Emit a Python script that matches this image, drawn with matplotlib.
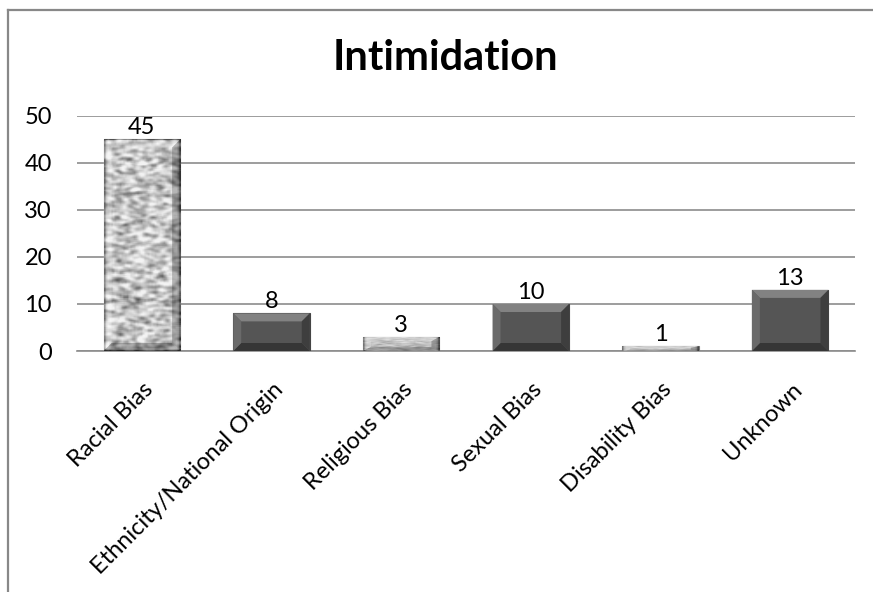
import numpy as np
import matplotlib.pyplot as plt
from matplotlib.patches import Polygon
from matplotlib.lines import Line2D
from matplotlib.transforms import ScaledTranslation

categories = ["Racial Bias", "Ethnicity/National Origin", "Religious Bias",
              "Sexual Bias", "Disability Bias", "Unknown"]
counts = [45, 8, 3, 10, 1, 13]
bar_styles = ["granite", "dark", "granite", "dark", "granite", "dark"]
yticks = [0, 10, 20, 30, 40, 50]
title = "Intimidation"

plt.rcParams['font.family'] = ['Lato', 'DejaVu Sans']

W, H = 873, 592
fig = plt.figure(figsize=(W / 100, H / 100), dpi=100)
ax = fig.add_axes([77 / W, 1 - 351 / H, (855 - 77) / W, (351 - 116) / H])


def granite_texture(seed, rows=220, cols=44):
    rng = np.random.default_rng(seed)
    n = rng.random((rows, cols))
    k = np.ones(3) / 3
    for _ in range(2):
        n = np.apply_along_axis(lambda r: np.convolve(r, k, mode='same'), 1, n)
        n = np.apply_along_axis(lambda c: np.convolve(c, k, mode='same'), 0, n)
    n = (n - n.min()) / (n.max() - n.min())
    return 0.2 + 0.75 * np.clip((n - 0.2) / 0.6, 0, 1) ** 0.7


def bevel(ax, x0, y0, w, h, colors, alpha=1.0):
    # pixel-size bevel converted to data units
    dx = min(8 / 130, w * 0.3)
    dy = min(8 / 4.7, h * 0.3)
    x1, y1 = x0 + w, y0 + h
    top = [(x0, y1), (x1, y1), (x1 - dx, y1 - dy), (x0 + dx, y1 - dy)]
    bottom = [(x0, y0), (x1, y0), (x1 - dx, y0 + dy), (x0 + dx, y0 + dy)]
    left = [(x0, y0), (x0, y1), (x0 + dx, y1 - dy), (x0 + dx, y0 + dy)]
    right = [(x1, y0), (x1, y1), (x1 - dx, y1 - dy), (x1 - dx, y0 + dy)]
    for pts, c in zip([top, bottom, left, right], colors):
        ax.add_patch(Polygon(pts, closed=True, facecolor=c, edgecolor='none',
                             alpha=alpha, zorder=4))


x = np.arange(len(categories))
bars = ax.bar(x, counts, width=0.59, color='#555555', edgecolor='#444444',
              linewidth=0.8, zorder=3)

for i, (bar, style) in enumerate(zip(bars, bar_styles)):
    x0, y0 = bar.get_x(), bar.get_y()
    w, h = bar.get_width(), bar.get_height()
    if style == 'granite':
        bar.set_facecolor('#aaaaaa')
        bar.set_edgecolor('#777777')
        tex = granite_texture(10 + i)
        im = ax.imshow(tex, extent=(x0, x0 + w, y0, y0 + h), aspect='auto',
                       cmap='gray', vmin=0, vmax=1, interpolation='bilinear',
                       zorder=3.5)
        im.set_clip_path(bar)
        bevel(ax, x0, y0, w, h, ['white', 'black', 'white', 'black'], alpha=0.25)
    else:
        bevel(ax, x0, y0, w, h, ['#828282', '#363636', '#6a6a6a', '#3e3e3e'])
    ax.annotate(f"{counts[i]}", (bar.get_x() + w / 2, h), xytext=(0, 1),
                textcoords='offset points', ha='center', va='bottom',
                fontsize=17, color='black', zorder=5)

ax.set_xlim(-0.5, len(categories) - 0.5)
ax.set_ylim(0, 50)
ax.set_yticks(yticks)
ax.yaxis.grid(True, color='#8c8c8c', linewidth=1.2, zorder=0)
ax.set_axisbelow(True)
ax.set_xticks(x)
ax.set_xticklabels(categories, rotation=45, ha='right', va='center',
                   rotation_mode='anchor', fontsize=17)
ax.tick_params(axis='both', length=0, labelsize=17)
ax.tick_params(axis='y', pad=18)
ax.tick_params(axis='x', pad=0)
shift = ScaledTranslation(8 / 100, -35 / 100, fig.dpi_scale_trans)
for lbl in ax.get_xticklabels():
    lbl.set_transform(lbl.get_transform() + shift)
for s in ['top', 'right', 'left']:
    ax.spines[s].set_visible(False)
ax.spines['bottom'].set_color('#8c8c8c')
ax.spines['bottom'].set_linewidth(1.2)

fig.text(445 / W, 1 - 58 / H, title, ha='center', va='center',
         fontsize=30, fontweight='bold')

# chart frame (top and left edges)
fig.add_artist(Line2D([8 / W, 1], [1 - 10 / H, 1 - 10 / H], color='#888888',
                      linewidth=1.6, transform=fig.transFigure))
fig.add_artist(Line2D([8 / W, 8 / W], [0, 1 - 10 / H], color='#888888',
                      linewidth=1.6, transform=fig.transFigure))

fig.savefig('out.png', dpi=100)
